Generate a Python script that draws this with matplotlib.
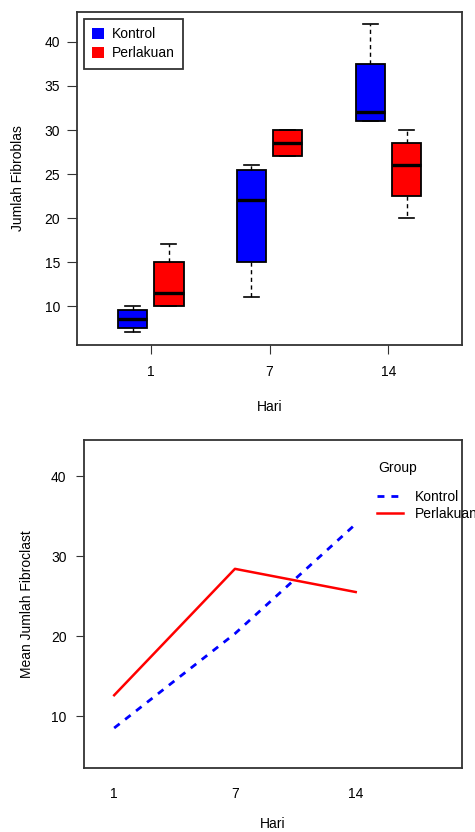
import numpy as np
import matplotlib
matplotlib.use("Agg")
import matplotlib.pyplot as plt
from matplotlib.patches import Patch

plt.rcParams['font.family'] = ['Liberation Sans', 'DejaVu Sans']
plt.rcParams['font.size'] = 10

# data
days = ['1', '7', '14']
groups = ['Kontrol', 'Perlakuan']
colors = ['#0000ff', '#ff0000']

kontrol_lo = [7, 11, 31]
kontrol_q1 = [7.5, 15, 31]
kontrol_med = [8.5, 22, 32]
kontrol_q3 = [9.5, 25.5, 37.5]
kontrol_hi = [10, 26, 42]

perlakuan_lo = [10, 27, 20]
perlakuan_q1 = [10, 27, 22.5]
perlakuan_med = [11.5, 28.5, 26]
perlakuan_q3 = [15, 30, 28.5]
perlakuan_hi = [17, 30, 30]

kontrol_mean = [8.5, 20.3, 34]
perlakuan_mean = [12.6, 28.4, 25.5]

spine_col = '#333333'

fig = plt.figure(figsize=(4.75, 8.32), dpi=100)

# ---- top panel: boxplots ----
ax1 = fig.add_axes([0.162, 0.5853, 0.811, 0.4002])

def make_stats(lo, q1, med, q3, hi):
    return [dict(whislo=a, q1=b, med=c, q3=d, whishi=e, fliers=[])
            for a, b, c, d, e in zip(lo, q1, med, q3, hi)]

kstats = make_stats(kontrol_lo, kontrol_q1, kontrol_med, kontrol_q3, kontrol_hi)
pstats = make_stats(perlakuan_lo, perlakuan_q1, perlakuan_med, perlakuan_q3, perlakuan_hi)
x = np.arange(len(days))
off = 0.152
bw = 0.25

for stats, pos, col in [(kstats, x - off, colors[0]), (pstats, x + off, colors[1])]:
    ax1.bxp(stats, positions=pos, widths=bw, patch_artist=True, showfliers=False,
            capwidths=bw / 2, manage_ticks=False,
            boxprops=dict(facecolor=col, edgecolor='black', linewidth=1.3),
            medianprops=dict(color='black', linewidth=2.4),
            whiskerprops=dict(color='black', linewidth=1.0, linestyle=(0, (3, 2.5))),
            capprops=dict(color='black', linewidth=1.2))

ax1.set_xlim(-0.62, 2.62)
ax1.set_ylim(5.57, 43.4)
ax1.set_xticks(x)
ax1.set_xticklabels(days)
ax1.set_yticks([10, 15, 20, 25, 30, 35, 40])
ax1.tick_params(axis='x', length=6.5, pad=8, color=spine_col)
ax1.tick_params(axis='y', length=7, pad=5, color=spine_col)
for s in ax1.spines.values():
    s.set_color(spine_col)
    s.set_linewidth(1.3)
ax1.set_xlabel('Hari')
ax1.set_ylabel('Jumlah Fibroblas')
ax1.xaxis.set_label_coords(0.5, -0.165)
ax1.yaxis.set_label_coords(-0.135, 0.5)

handles = [Patch(facecolor=c, edgecolor='none') for c in colors]
leg = ax1.legend(handles, groups, loc='upper left', bbox_to_anchor=(0.018, 0.979),
                 borderaxespad=0, fancybox=False, handlelength=0.85, handleheight=0.85,
                 handletextpad=0.55, labelspacing=0.35, borderpad=0.6, framealpha=1)
leg.get_frame().set_edgecolor(spine_col)
leg.get_frame().set_linewidth(1.3)

# ---- bottom panel: interaction of means ----
ax2 = fig.add_axes([0.1768, 0.0769, 0.7958, 0.3942])
ax2.plot(x, kontrol_mean, color=colors[0], linewidth=2, dashes=(2.5, 2.5), label=groups[0])
ax2.plot(x, perlakuan_mean, color=colors[1], linewidth=1.8, label=groups[1])
ax2.set_xlim(-0.25, 2.88)
ax2.set_ylim(3.5, 44.5)
ax2.set_xticks(x)
ax2.set_xticklabels(days)
ax2.set_yticks([10, 20, 30, 40])
ax2.tick_params(axis='x', length=0, pad=14)
ax2.tick_params(axis='y', length=6, pad=6.5, color=spine_col)
for s in ax2.spines.values():
    s.set_color(spine_col)
    s.set_linewidth(1.3)
ax2.set_xlabel('Hari')
ax2.set_ylabel('Mean Jumlah Fibroclast')
ax2.xaxis.set_label_coords(0.5, -0.148)
ax2.yaxis.set_label_coords(-0.132, 0.5)

ax2.text(0.778, 0.914, 'Group', transform=ax2.transAxes, ha='left', va='center')
ax2.legend(loc='upper left', bbox_to_anchor=(0.775, 0.848), borderaxespad=0,
           frameon=False, handlelength=1.9, handletextpad=0.85, labelspacing=0.2,
           borderpad=0)

fig.savefig('out.png', dpi=100)
